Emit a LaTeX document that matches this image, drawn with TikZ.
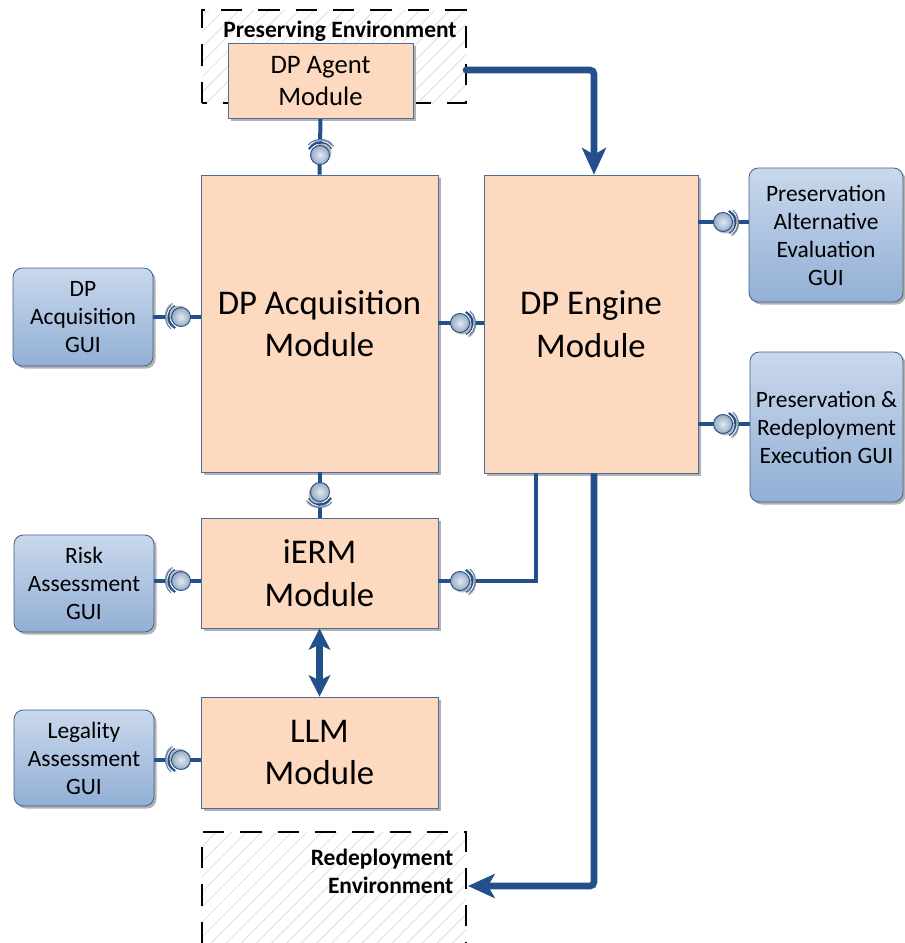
\documentclass[tikz,border=0pt]{standalone}
\usepackage{fontspec}
\setmainfont{Carlito}
\usetikzlibrary{arrows.meta,patterns.meta,shadings}
\definecolor{lnc}{HTML}{23508A}
\definecolor{modfill}{HTML}{FCD9BF}
\definecolor{modedge}{HTML}{4F6E96}
\definecolor{guitop}{HTML}{C9D8EC}
\definecolor{guibot}{HTML}{92AFD5}
\definecolor{guiedge}{HTML}{3E5F8A}
\definecolor{ballc}{HTML}{B4C8E4}
\newcommand\lolli[3]{%
\begin{scope}[shift={(#1,#2)},rotate=#3]
 \draw[gray!60, line width=1.6pt] (2.5,2.5) ++(-62:12.5) arc[start angle=-62,end angle=62,radius=12.5];
 \draw[lnc, line width=1.6pt] (-62:12.5) arc[start angle=-62,end angle=62,radius=12.5];
 \draw[lnc!75, line width=0.8pt] (-50:15.5) arc[start angle=-50,end angle=50,radius=15.5];
 \fill[gray!55] (2,2) circle (9.5);
 \shade[inner color=ballc!40, outer color=ballc!85!black, draw=lnc, line width=0.7pt] (0,0) circle (9.5);
\end{scope}}
\tikzset{
 modbox/.style={draw=modedge, line width=0.6pt, fill=modfill, align=center, inner sep=0pt},
 guibox/.style={draw=guiedge, line width=0.6pt, top color=guitop, bottom color=guibot, rounded corners=7pt, align=center, inner sep=0pt, font=\fontsize{17.6}{21}\selectfont},
 conn/.style={lnc, line width=3pt},
 bigarrow/.style={lnc, line width=5pt, rounded corners=3pt},
 envbox/.style={black, line width=1.5pt, dash pattern=on 16pt off 12pt},
 envfill/.style={pattern={Lines[angle=45,distance=8pt,line width=0.5pt]}, pattern color=gray!30},
 envlab/.style={font=\bfseries\fontsize{17.6}{21}\selectfont},
}
\begin{document}
\begin{tikzpicture}[x=0.75pt,y=-0.75pt]
\useasboundingbox (0,0) rectangle (905,943);
% environments
\fill[envfill] (202,10) rectangle (466,103);
\draw[envbox] (202,103) -- (202,10) -- (466,10) -- (466,103) -- cycle;
\node[envlab] (pelab) at (340,31) {Preserving Environment};
\fill[envfill] (202,832) rectangle (466,943);
\draw[envbox] (202,943) -- (202,832) -- (466,832) -- (466,943);
\node[envlab, align=right, anchor=east] (redep) at (458,871) {Redeployment\\Environment};
\coordinate (redepE) at (468,886);
\coordinate (presE) at (466,70);
\coordinate (c1) at (594,70);
\coordinate (c2) at (594,886);
% shadows
\foreach \a/\b/\c/\d in {228/43/413/118, 201/175/438/472, 484/175/698/473, 201/518/438/628, 201/697/438/808}
  \fill[gray!60] (\a+3,\b+3) rectangle (\c+3,\d+3);
\foreach \a/\b/\c/\d in {13/268/153/366, 14/535/154/632, 14/710/154/806, 749/168/903/302, 750/352/903/502}
  \fill[gray!60, rounded corners=7pt] (\a+2.5,\b+2.5) rectangle (\c+2.5,\d+2.5);
% modules
\node[modbox, minimum width=138.75pt, minimum height=56.25pt, font=\fontsize{20}{24}\selectfont] (agent) at (320.5,81) {DP Agent\\Module};
\node[modbox, minimum width=177.75pt, minimum height=222.75pt, font=\fontsize{26}{32}\selectfont] (acq) at (319.5,323.5) {DP Acquisition\\Module};
\node[modbox, minimum width=160.5pt, minimum height=223.5pt, font=\fontsize{26}{32}\selectfont] (eng) at (591,324) {DP Engine\\Module};
\node[modbox, minimum width=177.75pt, minimum height=82.5pt, font=\fontsize{26}{32}\selectfont] (ierm) at (319.5,573) {iERM\\Module};
\node[modbox, minimum width=177.75pt, minimum height=83.25pt, font=\fontsize{26}{32}\selectfont] (llm) at (319.5,752.5) {LLM\\Module};
% GUIs
\node[guibox, minimum width=105pt, minimum height=73.5pt] (agui) at (83,317) {DP\\Acquisition\\GUI};
\node[guibox, minimum width=105pt, minimum height=72.75pt] (rgui) at (84,583.5) {Risk\\Assessment\\GUI};
\node[guibox, minimum width=105pt, minimum height=72pt] (lgui) at (84,758) {Legality\\Assessment\\GUI};
\node[guibox, minimum width=115.5pt, minimum height=100.5pt] (pgui) at (826,235) {Preservation\\Alternative\\Evaluation\\GUI};
\node[guibox, minimum width=114.75pt, minimum height=112.5pt] (xgui) at (826.5,427) {Preservation \&\\Redeployment\\Execution GUI};
% ball positions
\coordinate (b3) at (181,317);
\coordinate (b4) at (460,323);
\coordinate (b5) at (723,222);
\coordinate (b6) at (723,424);
\coordinate (b7) at (460,581);
\coordinate (b8) at (181,581);
\coordinate (b9) at (181,760);
\coordinate (k7) at (536,581);
% connectors
\draw[conn] (agent.south) -- (acq.north);
\draw[conn] (acq.south) -- (ierm.north);
\draw[conn] (agui.east) -- ([xshift=-12]b3);
\draw[conn] (b3) -- (b3 -| acq.west);
\draw[conn] (b4 -| acq.east) -- (b4);
\draw[conn] ([xshift=12]b4) -- (b4 -| eng.west);
\draw[conn] (b5 -| eng.east) -- (b5);
\draw[conn] ([xshift=12]b5) -- (b5 -| pgui.west);
\draw[conn] (b6 -| eng.east) -- (b6);
\draw[conn] ([xshift=12]b6) -- (b6 -| xgui.west);
\draw[conn] (b7 -| ierm.east) -- (b7);
\draw[conn, line join=miter] ([xshift=12]b7) -- (k7) -- (k7 |- eng.south);
\draw[conn] (b8 -| rgui.east) -- ([xshift=-12]b8);
\draw[conn] (b8) -- (b8 -| ierm.west);
\draw[conn] (b9 -| lgui.east) -- ([xshift=-12]b9);
\draw[conn] (b9) -- (b9 -| llm.west);
\lolli{320}{155}{90}
\lolli{320}{492}{-90}
\lolli{181}{317}{180}
\lolli{460}{323}{0}
\lolli{723}{222}{0}
\lolli{723}{424}{0}
\lolli{460}{581}{0}
\lolli{181}{581}{180}
\lolli{181}{760}{180}
% big arrows
\draw[bigarrow, line cap=round, -{Stealth[length=20pt,width=18pt,inset=5pt]}] (presE) -- (c1) -- (c1 |- eng.north);
\draw[bigarrow, -{Stealth[length=20pt,width=18pt,inset=5pt]}] (c1 |- eng.south) -- (c2) -- (redepE);
\draw[lnc, line width=5pt, {Stealth[length=16pt,width=16pt,inset=4pt]}-{Stealth[length=16pt,width=16pt,inset=4pt]}] (ierm.south) -- (llm.north);
\end{tikzpicture}
\end{document}
